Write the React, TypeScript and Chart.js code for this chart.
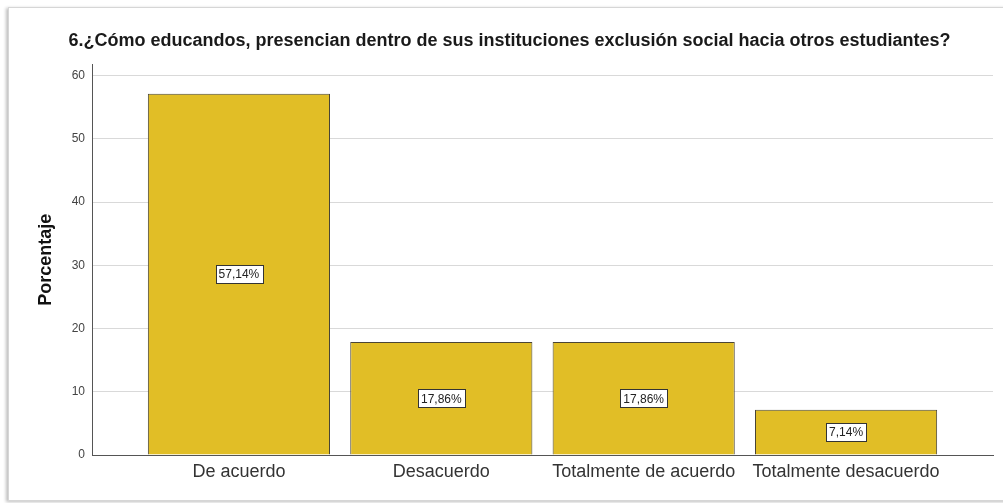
import React, { useEffect, useRef } from "react";
import { Chart, registerables } from "chart.js";

Chart.register(...registerables);

const TITLE = "6.¿Cómo educandos, presencian dentro de sus instituciones exclusión social hacia otros estudiantes?";
const categories = ["De acuerdo", "Desacuerdo", "Totalmente de acuerdo", "Totalmente desacuerdo"];
const percentages = [57.14, 17.86, 17.86, 7.14];
const yTicks = [0, 10, 20, 30, 40, 50, 60];

const FONT = "'Liberation Sans', Arial, sans-serif";

const labelPlugin = {
  id: "boxLabels",
  afterDatasetsDraw(chart: any) {
    const ctx = chart.ctx;
    const meta = chart.getDatasetMeta(0);
    ctx.save();
    ctx.font = `12px ${FONT}`;
    ctx.textAlign = "center";
    ctx.textBaseline = "middle";
    meta.data.forEach((bar: any, i: number) => {
      const txt = percentages[i].toFixed(2).replace(".", ",") + "%";
      const cx = bar.x;
      const cy = (bar.y + bar.base) / 2;
      const w = ctx.measureText(txt).width + 6;
      const h = 18;
      const x0 = Math.round(cx - w / 2) + 0.5;
      const y0 = Math.round(cy - h / 2) + 0.5;
      ctx.fillStyle = "#ffffff";
      ctx.fillRect(x0, y0, Math.round(w), h);
      ctx.strokeStyle = "#333333";
      ctx.lineWidth = 1;
      ctx.strokeRect(x0, y0, Math.round(w), h);
      ctx.fillStyle = "#222222";
      ctx.fillText(txt, cx, cy + 1);
    });
    ctx.restore();
  },
};

export default function App() {
  const ref = useRef<HTMLCanvasElement>(null);
  useEffect(() => {
    if (!ref.current) return;
    const chart = new Chart(ref.current, {
      type: "bar",
      data: {
        datasets: [
          {
            data: percentages.map((v, i) => ({ x: i, y: v })),
            backgroundColor: "#E1BE26",
            borderColor: "#4a4535",
            borderWidth: 1,
            categoryPercentage: 1,
            barPercentage: 0.9,
          },
        ],
      },
      plugins: [labelPlugin],
      options: {
        responsive: false,
        animation: false,
        layout: { padding: { left: 26, right: 10, top: 0, bottom: 6 } },
        plugins: {
          legend: { display: false },
          tooltip: { enabled: false },
          title: {
            display: true,
            text: TITLE,
            color: "#1a1a1a",
            font: { family: FONT, size: 18, weight: "bold" },
            padding: { top: 30, bottom: 13 },
          },
        },
        scales: {
          x: {
            type: "linear",
            offset: false,
            min: -0.726,
            max: 3.726,
            grid: { display: false, drawTicks: false, offset: false },
            border: { color: "#555555", width: 1 },
            afterBuildTicks: (scale: any) => {
              scale.ticks = categories.map((_, i) => ({ value: i }));
            },
            afterFit: (scale: any) => {
              scale.height = 42;
            },
            ticks: {
              autoSkip: false,
              maxRotation: 0,
              padding: 6,
              color: "#333333",
              font: { family: FONT, size: 18 },
              callback: (v: any) => categories[v as number] ?? "",
            },
          },
          y: {
            min: 0,
            max: 61.75,
            afterBuildTicks: (scale: any) => {
              scale.ticks = yTicks.map((v) => ({ value: v }));
            },
            afterFit: (scale: any) => {
              scale.width = 66;
            },
            grid: { color: "#d9d9d9", drawTicks: false, lineWidth: 1 },
            border: { color: "#555555", width: 1 },
            ticks: {
              padding: 7,
              color: "#444444",
              font: { family: FONT, size: 12 },
            },
            title: {
              display: true,
              text: "Porcentaje",
              color: "#111111",
              font: { family: FONT, size: 18, weight: "bold" },
              padding: { top: 9, bottom: 0 },
            },
          },
        },
      },
    } as any);
    return () => chart.destroy();
  }, []);

  return (
    <div style={{ position: "fixed", left: 0, top: 0, width: 1003, height: 503, background: "#fff" }}>
      <div
        style={{
          position: "absolute",
          left: 8,
          top: 7,
          width: 1000,
          height: 494,
          border: "1px solid #d6d6d6",
          boxShadow: "-2px 1px 3px rgba(0,0,0,0.25)",
          boxSizing: "border-box",
        }}
      />
      <canvas ref={ref} width={1003} height={503} style={{ position: "absolute", left: 0, top: 0 }} />
    </div>
  );
}
